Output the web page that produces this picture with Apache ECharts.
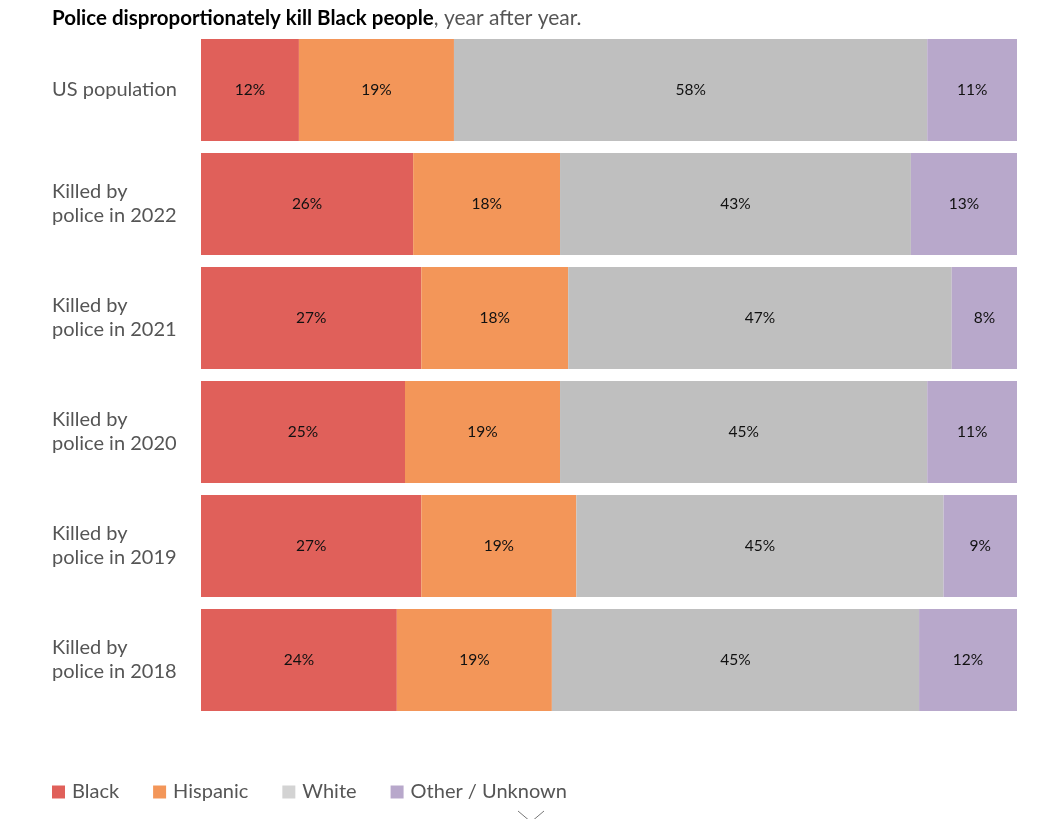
<!DOCTYPE html>
<html><head><meta charset="utf-8">
<script src="https://cdn.jsdelivr.net/npm/echarts@6/dist/echarts.min.js"></script>
<style>html,body{margin:0;padding:0;background:#fff}#c{width:1038px;height:819px}</style>
</head><body><div id="c"></div>
<script>
const categories = ['US population','Killed by\npolice in 2022','Killed by\npolice in 2021','Killed by\npolice in 2020','Killed by\npolice in 2019','Killed by\npolice in 2018'];
const seriesNames = ['Black','Hispanic','White','Other / Unknown'];
const black = [12,26,27,25,27,24];
const hispanic = [19,18,18,19,19,19];
const white = [58,43,47,45,45,45];
const other = [11,13,8,11,9,12];

const colors = ['#e0605a','#f39659','#bfbfbf','#b8a8cb'];
const legendColors = ['#e0605a','#f39659','#d3d3d3','#b8a8cb'];
const FONT = 'Lato, "Noto Sans", sans-serif';
const values = [black, hispanic, white, other];

const chart = echarts.init(document.getElementById('c'), null, {renderer:'canvas'});
chart.setOption({
  animation:false,
  title:{
    left:52, top:8, padding:0,
    text:'{b|Police disproportionately kill Black people}{n|, year after year.}',
    textStyle:{rich:{
      b:{fontFamily:FONT,fontWeight:'bold',fontSize:20.5,color:'#000'},
      n:{fontFamily:FONT,fontWeight:'normal',fontSize:21,color:'#555'}
    }}
  },
  legend:{
    left:52, top:782, padding:0,
    itemWidth:13, itemHeight:13, itemGap:34, icon:'rect',
    textStyle:{fontFamily:FONT,fontSize:20,color:'#555',padding:[0,0,0,2]},
    data: seriesNames.map((n,i)=>({name:n,itemStyle:{color:legendColors[i]}}))
  },
  grid:{left:201,right:21,top:33,height:684},
  xAxis:{type:'value',min:0,max:100,show:false},
  yAxis:{type:'category',data:categories,inverse:true,
    axisLine:{show:false},axisTick:{show:false},
    axisLabel:{align:'left',margin:149,fontFamily:FONT,fontSize:20,color:'#555',lineHeight:24}
  },
  series: seriesNames.map((n,i)=>({
    name:n,type:'bar',stack:'t',barCategoryGap:'10.5%',
    itemStyle:{color:colors[i]},
    label:{show:true,position:'inside',formatter:'{c}%',fontFamily:FONT,fontSize:15.5,color:'#111'},
    data:values[i]
  })),
  graphic:[{type:'polyline',shape:{points:[[518,811],[531,822],[544,811]]},style:{stroke:'#777',lineWidth:1,fill:null}}]
});
</script></body></html>
